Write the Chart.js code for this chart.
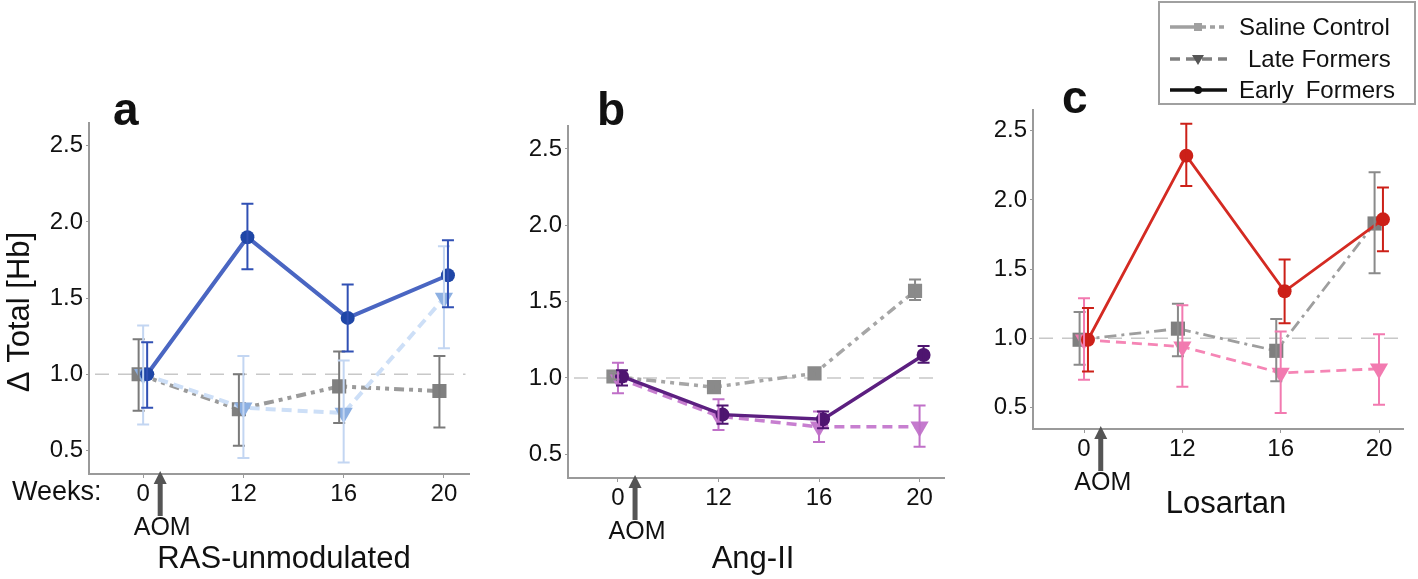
<!DOCTYPE html>
<html>
<head>
<meta charset="utf-8">
<script src="https://cdn.jsdelivr.net/npm/chart.js@4.4.0/dist/chart.umd.min.js"></script>
<style>
    body { margin: 0; background: #fff; width: 1418px; height: 579px; overflow: hidden; position: relative; }
    canvas { position: absolute; top: 0; }
</style>
</head>
<body>
<canvas id="pa"></canvas>
<canvas id="pb"></canvas>
<canvas id="pc"></canvas>
<script>
// tick labels
const WEEKS = ['0', '12', '16', '20'];
const Y_TICKS = [0.5, 1.0, 1.5, 2.0, 2.5];
const SERIES_NAMES = ['Saline Control', 'Late Formers', 'Early Formers'];

// a - RAS-unmodulated
const A_SALINE = [1.00, 0.77, 0.92, 0.89];
const A_SALINE_LO = [0.76, 0.53, 0.68, 0.65];
const A_SALINE_HI = [1.23, 1.00, 1.15, 1.12];
const A_LATE = [1.00, 0.78, 0.745, 1.50];
const A_LATE_LO = [0.67, 0.45, 0.42, 1.17];
const A_LATE_HI = [1.32, 1.12, 1.09, 1.84];
const A_EARLY = [1.00, 1.90, 1.37, 1.65];
const A_EARLY_LO = [0.78, 1.69, 1.15, 1.44];
const A_EARLY_HI = [1.21, 2.12, 1.59, 1.88];

// b - Ang-II
const B_SALINE = [1.01, 0.94, 1.03, 1.57];
const B_SALINE_LO = [0.99, 0.92, 1.01, 1.51];
const B_SALINE_HI = [1.03, 0.96, 1.05, 1.645];
const B_LATE = [1.00, 0.75, 0.68, 0.68];
const B_LATE_LO = [0.90, 0.66, 0.58, 0.55];
const B_LATE_HI = [1.10, 0.86, 0.78, 0.82];
const B_EARLY = [1.01, 0.76, 0.73, 1.15];
const B_EARLY_LO = [0.95, 0.70, 0.67, 1.10];
const B_EARLY_HI = [1.05, 0.82, 0.78, 1.21];

// c - Losartan
const C_SALINE = [0.99, 1.07, 0.91, 1.83];
const C_SALINE_LO = [0.81, 0.87, 0.69, 1.47];
const C_SALINE_HI = [1.19, 1.25, 1.14, 2.20];
const C_LATE = [0.99, 0.94, 0.75, 0.78];
const C_LATE_LO = [0.70, 0.65, 0.46, 0.52];
const C_LATE_HI = [1.29, 1.24, 1.05, 1.03];
const C_EARLY = [0.99, 2.32, 1.34, 1.86];
const C_EARLY_LO = [0.76, 2.10, 1.11, 1.63];
const C_EARLY_HI = [1.22, 2.55, 1.57, 2.09];

const FONT = "'Liberation Sans', Arial, sans-serif";
const AXIS_COL = '#9a9a9a';
const H = 579;
const XH = 40;

const PANELS = [
    {
        id: 'pa', left: 0, width: 480,
        area: { left: 89, right: 476, top: 123, bottom: 474 },
        xRange: [-0.54, 3.255],
        letter: 'a', letterPos: [113, 125],
        title: 'RAS-unmodulated', titlePos: [284, 568],
        weeks: true, yTitle: true, lw: 4,
        saline: { v: A_SALINE, lo: A_SALINE_LO, hi: A_SALINE_HI, line: '#9a9a9a', pt: '#808080', err: '#7a7a7a' },
        late: { v: A_LATE, lo: A_LATE_LO, hi: A_LATE_HI, line: '#cddff7', pt: '#8db0e2', err: '#c3d6f2' },
        early: { v: A_EARLY, lo: A_EARLY_LO, hi: A_EARLY_HI, line: '#4a66c2', pt: '#1f46a6', err: '#3050b4' }
    },
    {
        id: 'pb', left: 480, width: 475,
        area: { left: 568, right: 945, top: 126, bottom: 478 },
        xRange: [-0.497, 3.248],
        letter: 'b', letterPos: [597, 125],
        title: 'Ang-II', titlePos: [753, 568],
        lw: 3.5,
        saline: { v: B_SALINE, lo: B_SALINE_LO, hi: B_SALINE_HI, line: '#a6a6a6', pt: '#8a8a8a', err: '#8a8a8a' },
        late: { v: B_LATE, lo: B_LATE_LO, hi: B_LATE_HI, line: '#c77fd0', pt: '#c47acd', err: '#c070c8' },
        early: { v: B_EARLY, lo: B_EARLY_LO, hi: B_EARLY_HI, line: '#5c1f80', pt: '#4e1570', err: '#4e1570' }
    },
    {
        id: 'pc', left: 960, width: 458,
        area: { left: 1033, right: 1403, top: 110, bottom: 429 },
        xRange: [-0.519, 3.244],
        letter: 'c', letterPos: [1062, 113],
        title: 'Losartan', titlePos: [1226, 513],
        legend: true, lw: 2.8,
        saline: { v: C_SALINE, lo: C_SALINE_LO, hi: C_SALINE_HI, line: '#9e9e9e', pt: '#7f7f7f', err: '#8a8a8a' },
        late: { v: C_LATE, lo: C_LATE_LO, hi: C_LATE_HI, line: '#f585b5', pt: '#f27ab0', err: '#f27ab0' },
        early: { v: C_EARLY, lo: C_EARLY_LO, hi: C_EARLY_HI, line: '#d42a22', pt: '#cc2018', err: '#cc2018' }
    }
];

// small horizontal dodge like the original figure
const DODGE = { saline: -0.045, late: 0, early: 0.04 };

// error bars, drawn on top of the markers
const errorBars = {
    id: 'errorBars',
    afterDatasetsDraw(chart) {
        const ctx = chart.ctx;
        const ys = chart.scales.y;
        for (let d = chart.data.datasets.length - 1; d >= 0; d--) {
            const ds = chart.data.datasets[d];
            const meta = chart.getDatasetMeta(d);
            ctx.save();
            ctx.strokeStyle = ds.errColor;
            ctx.lineWidth = 2;
            meta.data.forEach((pt, i) => {
                const y1 = ys.getPixelForValue(ds.errLo[i]);
                const y2 = ys.getPixelForValue(ds.errHi[i]);
                ctx.beginPath();
                ctx.moveTo(pt.x, y1); ctx.lineTo(pt.x, y2);
                ctx.moveTo(pt.x - 6, y1); ctx.lineTo(pt.x + 6, y1);
                ctx.moveTo(pt.x - 6, y2); ctx.lineTo(pt.x + 6, y2);
                ctx.stroke();
            });
            ctx.restore();
        }
    }
};

function drawLegend(ctx, ox) {
    const bx = 1159 - ox, by = 2;
    ctx.save();
    ctx.strokeStyle = '#a0a0a0';
    ctx.lineWidth = 2;
    ctx.strokeRect(bx, by, 256, 102);
    const rows = [
        { y: 27, color: '#a0a0a0', dash: [36, 4, 5, 4, 5, 4], mark: 'rect', mc: '#a0a0a0', tx: 1239 },
        { y: 59, color: '#808080', dash: [10, 6], mark: 'tri', mc: '#555', tx: 1248 },
        { y: 90, color: '#111', dash: [], mark: 'circle', mc: '#111', tx: 1239 }
    ];
    rows.forEach((r, i) => {
        ctx.strokeStyle = r.color;
        ctx.lineWidth = 3.5;
        ctx.setLineDash(r.dash);
        ctx.beginPath();
        ctx.moveTo(1170 - ox, r.y); ctx.lineTo(1227 - ox, r.y);
        ctx.stroke();
        ctx.setLineDash([]);
        ctx.fillStyle = r.mc;
        const mx = 1198 - ox;
        ctx.beginPath();
        if (r.mark === 'rect') ctx.rect(mx - 4, r.y - 4, 8, 8);
        else if (r.mark === 'tri') { ctx.moveTo(mx - 6, r.y - 4); ctx.lineTo(mx + 6, r.y - 4); ctx.lineTo(mx, r.y + 6); ctx.closePath(); }
        else ctx.arc(mx, r.y, 4, 0, Math.PI * 2);
        ctx.fill();
        ctx.fillStyle = '#111';
        ctx.font = '24px ' + FONT;
        ctx.textBaseline = 'middle';
        ctx.textAlign = 'left';
        let txt = SERIES_NAMES[i];
        if (i === 2) txt = 'Early\u2002Formers';
        ctx.fillText(txt, r.tx - ox, r.y + 1);
    });
    ctx.restore();
}

function annotations(p) {
    return {
        id: 'annot_' + p.id,
        beforeDatasetsDraw(chart) {
            const ctx = chart.ctx;
            const ys = chart.scales.y;
            const a = chart.chartArea;
            // dashed reference line at 1.0
            ctx.save();
            ctx.strokeStyle = '#c8c8c8';
            ctx.lineWidth = 1.5;
            ctx.setLineDash([14, 9]);
            ctx.beginPath();
            const y1 = ys.getPixelForValue(1.0);
            ctx.moveTo(a.left + 6, y1); ctx.lineTo(a.right - 4, y1);
            ctx.stroke();
            ctx.restore();
        },
        afterDraw(chart) {
            const ctx = chart.ctx;
            const xs = chart.scales.x;
            const a = chart.chartArea;
            const ox = p.left;
            ctx.save();
            ctx.fillStyle = '#111';
            // panel letter
            ctx.font = 'bold 46px ' + FONT;
            ctx.textAlign = 'left';
            ctx.textBaseline = 'alphabetic';
            ctx.fillText(p.letter, p.letterPos[0] - ox, p.letterPos[1]);
            // group title
            ctx.font = '31px ' + FONT;
            ctx.textAlign = 'center';
            ctx.fillText(p.title, p.titlePos[0] - ox, p.titlePos[1]);
            // AOM arrow
            const ax = xs.getPixelForValue(0.17);
            ctx.fillStyle = '#555';
            ctx.fillRect(ax - 2.5, a.bottom + 8, 5, 34);
            ctx.beginPath();
            ctx.moveTo(ax, a.bottom - 3);
            ctx.lineTo(ax - 6.5, a.bottom + 10);
            ctx.lineTo(ax + 6.5, a.bottom + 10);
            ctx.closePath();
            ctx.fill();
            ctx.fillStyle = '#111';
            ctx.font = '25px ' + FONT;
            ctx.fillText('AOM', ax + 2, a.bottom + 61);
            if (p.weeks) {
                ctx.font = '27px ' + FONT;
                ctx.textAlign = 'left';
                ctx.fillText('Weeks:', 12 - ox, a.bottom + 26);
            }
            if (p.yTitle) {
                ctx.translate(29 - ox, 312);
                ctx.rotate(-Math.PI / 2);
                ctx.font = '31px ' + FONT;
                ctx.textAlign = 'center';
                ctx.fillText('\u0394 Total [Hb]', 0, 0);
                ctx.setTransform(1, 0, 0, 1, 0, 0);
            }
            ctx.restore();
            if (p.legend) drawLegend(ctx, ox);
        }
    };
}

function makeDataset(s, key, label, p) {
    const base = {
        label: label,
        data: s.v.map((v, i) => ({ x: i + DODGE[key], y: v })),
        errLo: s.lo,
        errHi: s.hi,
        errColor: s.err,
        borderColor: s.line,
        backgroundColor: s.pt,
        pointBackgroundColor: s.pt,
        pointBorderColor: s.pt,
        pointBorderWidth: 0,
        borderWidth: p.lw,
        tension: 0
    };
    if (key === 'saline') {
        base.pointStyle = 'rect';
        base.pointRadius = 10;
        base.borderDash = p.id === 'pc' ? [12, 5, 3, 5] : [10, 5, 4, 5, 4, 5];
    } else if (key === 'late') {
        base.pointStyle = 'triangle';
        base.pointRotation = 180;
        base.pointRadius = 10.5;
        base.borderDash = [10, 6];
    } else {
        base.pointStyle = 'circle';
        base.pointRadius = 7;
    }
    return base;
}

PANELS.forEach(p => {
    const cv = document.getElementById(p.id);
    cv.width = p.width;
    cv.height = H;
    cv.style.left = p.left + 'px';
    cv.style.width = p.width + 'px';
    cv.style.height = H + 'px';

    new Chart(cv.getContext('2d'), {
        type: 'line',
        data: {
            datasets: [
                makeDataset(p.early, 'early', SERIES_NAMES[2], p),
                makeDataset(p.late, 'late', SERIES_NAMES[1], p),
                makeDataset(p.saline, 'saline', SERIES_NAMES[0], p)
            ]
        },
        options: {
            responsive: false,
            animation: false,
            devicePixelRatio: 1,
            layout: {
                padding: {
                    left: 0,
                    top: p.area.top,
                    right: p.left + p.width - p.area.right,
                    bottom: H - p.area.bottom - XH
                }
            },
            plugins: {
                legend: { display: false },
                tooltip: { enabled: false }
            },
            scales: {
                x: {
                    type: 'linear',
                    min: p.xRange[0],
                    max: p.xRange[1],
                    afterBuildTicks: (s) => { s.ticks = WEEKS.map((w, i) => ({ value: i })); },
                    afterFit: (s) => { s.height = XH; },
                    ticks: {
                        callback: (v) => WEEKS[v],
                        font: { family: FONT, size: 24 },
                        color: '#111',
                        padding: 2,
                        maxRotation: 0
                    },
                    grid: { drawOnChartArea: false, drawTicks: true, tickLength: 4, color: AXIS_COL },
                    border: { display: true, color: AXIS_COL, width: 2 }
                },
                y: {
                    type: 'linear',
                    min: 0.345,
                    max: 2.65,
                    afterBuildTicks: (s) => { s.ticks = Y_TICKS.map(v => ({ value: v })); },
                    afterFit: (s) => { s.width = p.area.left - p.left; },
                    ticks: {
                        callback: (v) => v.toFixed(1),
                        font: { family: FONT, size: 24 },
                        color: '#111',
                        padding: 3
                    },
                    grid: { drawOnChartArea: false, drawTicks: true, tickLength: 3, color: AXIS_COL },
                    border: { display: true, color: AXIS_COL, width: 2 }
                }
            }
        },
        plugins: [errorBars, annotations(p)]
    });
});
</script>
</body>
</html>
